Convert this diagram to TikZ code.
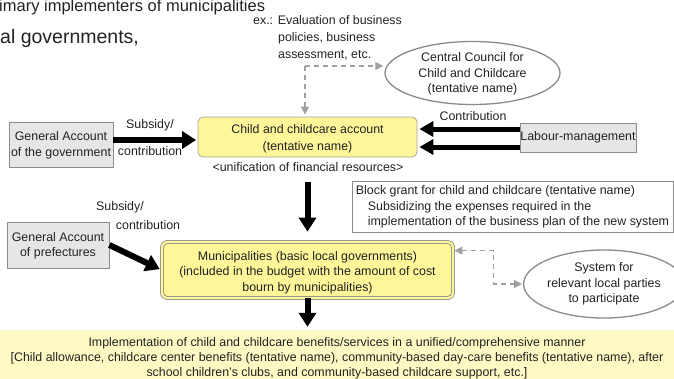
\documentclass[tikz,border=0pt]{standalone}
\usepackage{fontspec}
\setmainfont{Liberation Sans}
\usetikzlibrary{arrows.meta,shapes.geometric}
\definecolor{ink}{HTML}{222222}
\definecolor{yfill}{HTML}{FFF69A}
\definecolor{yline}{HTML}{A8A692}
\definecolor{bandfill}{HTML}{FFFAC4}
\definecolor{boxfill}{HTML}{E6E6E6}
\definecolor{boxline}{HTML}{8C8C8C}
\definecolor{ovalline}{HTML}{8A8A8A}
\definecolor{dashgray}{HTML}{A0A0A0}
% invisible strut that lowers the text block inside a box
\newcommand{\upstrut}[1]{\rule{0pt}{#1}}
\begin{document}
\begin{tikzpicture}[x=1pt,y=-1pt]
\tikzset{
  txt/.style={font=\fontsize{12.4}{15.5}\selectfont, text=ink},
  graybox/.style={txt, draw=boxline, fill=boxfill, line width=0.8pt, align=center, inner sep=0pt},
  yellowbox/.style={txt, draw=yline, fill=yfill, rounded corners=5pt, line width=0.8pt, align=center, inner sep=0pt},
  oval/.style={txt, ellipse, draw=ovalline, line width=1.3pt, fill=white, align=center, inner sep=0pt},
  bigarrow/.style={draw=black, line width=6pt, -{Triangle[width=17pt,length=14pt]}},
  midarrow/.style={draw=black, line width=5pt, -{Triangle[width=15pt,length=14pt]}},
  dasharrow/.style={draw=dashgray, line width=1.4pt, dash pattern=on 5pt off 4pt, -{Triangle[width=8pt,length=8pt]}}
}
\useasboundingbox (0,0) rectangle (674,378);
\clip (0,0) rectangle (674,378);

% heading lines running in from the left
\node[font=\fontsize{16.5}{20}\selectfont, text=ink, anchor=base west, inner sep=0pt] (head1) at (-1,11.5) {imary implementers of municipalities};
\node[font=\fontsize{19.5}{23}\selectfont, text=ink, anchor=base west, inner sep=0pt] (head2) at (0,43) {al governments,};

% bottom band
\node[fill=bandfill, minimum width=680pt, minimum height=57pt, inner sep=0pt, font=\fontsize{12.4}{15}\selectfont, text=ink, align=center] (band) at (337,358.5)
  {Implementation of child and childcare benefits/services in a unified/comprehensive manner\\
   {[}Child allowance, childcare center benefits (tentative name), community-based day-care benefits (tentative name), after\\
   school children's clubs, and community-based childcare support, etc.]};

% evaluation note and council
\node[txt, align=left, anchor=west, font=\fontsize{12.4}{17}\selectfont, inner sep=0pt] (note) at (253,37.5)
  {ex.: Evaluation of business\\\hspace*{25pt}policies, business\\\hspace*{25pt}assessment, etc.};
\node[oval, minimum width=175pt, minimum height=58pt] (council) at (472.5,73)
  {\upstrut{11pt}Central Council for\\Child and Childcare\\(tentative name)};

% financial account
\node[yellowbox, minimum width=219pt, minimum height=40pt, font=\fontsize{12.4}{17}\selectfont] (acct) at (307.5,137)
  {\upstrut{13pt}Child and childcare account\\(tentative name)};
\node[txt] (unif) at (308,167) {<unification of financial resources>};

\node[graybox, minimum width=104pt, minimum height=45pt] (gov) at (61,144.5) {\upstrut{11pt}General Account\\of the government};
\node[graybox, minimum width=116pt, minimum height=29pt] (labour) at (578,137.5) {Labour-management};

\node[txt] (sub1) at (150,125) {Subsidy/};
\node[txt] (con1) at (150,151) {contribution};
\node[txt] (contrib) at (473,116) {Contribution};

% block grant
\node[txt, draw=boxline, fill=white, line width=0.8pt, minimum width=321pt, minimum height=51pt, align=left, inner sep=0pt] (grant) at (512.5,206.5)
  {\upstrut{10pt}Block grant for child and childcare (tentative name)\\
   \hspace*{12pt}Subsidizing the expenses required in the\\
   \hspace*{12pt}implementation of the business plan of the new system};

% local level
\node[graybox, minimum width=102pt, minimum height=46pt] (pref) at (58,245) {\upstrut{11pt}General Account\\of prefectures};
\node[txt] (sub2) at (120,207) {Subsidy/};
\node[txt] (con2) at (148,225) {contribution};
\node[yellowbox, draw=boxline, double=yfill, double distance=2.2pt, minimum width=291pt, minimum height=56pt] (muni) at (307.5,270)
  {\upstrut{14pt}Municipalities (basic local governments)\\(included in the budget with the amount of cost\\bourn by municipalities)};
\node[oval, minimum width=140pt, minimum height=68pt] (system) at (604,284)
  {System for\\relevant local parties\\to participate};

% dashed links
\coordinate (split) at (305,66);
\draw[dasharrow, shorten >=1pt] (split) -- (split -| council.west);
\draw[dasharrow, shorten >=2pt] (split) -- (split |- acct.north);
\draw[dasharrow, {Triangle[width=8pt,length=8pt]}-{Triangle[width=8pt,length=8pt]}, shorten <=1pt, shorten >=1pt]
  ([yshift=-9pt]muni.north east) -- ++(40,0) |- (system.west);

% money flows
\draw[bigarrow, shorten >=1.5pt] ([yshift=4.5pt]gov.east) -- ([yshift=4.5pt]gov.east -| acct.west);
\draw[midarrow, shorten >=2pt] ([yshift=8.5pt]labour.west) -- ([yshift=8.5pt]labour.west -| acct.east);
\draw[midarrow, shorten >=2pt] ([yshift=-9.5pt]labour.west) -- ([yshift=-9.5pt]labour.west -| acct.east);
\draw[bigarrow, shorten <=25pt, shorten >=10pt] (acct.south) -- (acct.south |- muni.north);
\draw[bigarrow, shorten >=2pt] (pref.east) -- (muni.west);
\draw[bigarrow, shorten >=3pt] (muni.south) -- (muni.south |- band.north);
\end{tikzpicture}
\end{document}
